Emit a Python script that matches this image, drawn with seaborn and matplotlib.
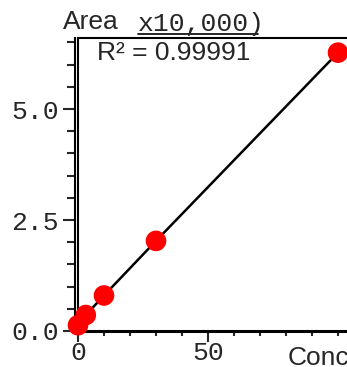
import matplotlib
matplotlib.use("Agg")
import matplotlib.pyplot as plt
from matplotlib.lines import Line2D
from matplotlib.ticker import MultipleLocator, FixedLocator, FixedFormatter
import seaborn as sns
import pandas as pd

# calibration points (conc vs area x10,000)
conc = [0, 3, 10, 30, 100]
area = [0.13, 0.36, 0.80, 2.03, 6.27]
y_ticks = [0.0, 2.5, 5.0]
y_labels = ["0.0", "2.5", "5.0"]
x_ticks = [0, 50]
x_labels = ["0", "50"]
r2_text = "R² = 0.99991"

sns.set_style("white")
plt.rcParams["font.family"] = ["Liberation Sans", "DejaVu Sans"]

df = pd.DataFrame({"conc": conc, "area": area})

fig = plt.figure(figsize=(3.47, 3.67), dpi=100)
ax = fig.add_axes([78 / 347, 36 / 367, 286 / 347, 293 / 367])

sns.lineplot(data=df, x="conc", y="area", color="black", linewidth=1.8, ax=ax)
sns.scatterplot(data=df, x="conc", y="area", color="red", s=220, edgecolor="none",
                zorder=5, clip_on=False, ax=ax)

ax.set_xlim(0, 110)
ax.set_ylim(0, 6.6)

ax.yaxis.set_major_locator(FixedLocator(y_ticks))
ax.yaxis.set_major_formatter(FixedFormatter(y_labels))
ax.yaxis.set_minor_locator(MultipleLocator(0.5))
ax.xaxis.set_major_locator(FixedLocator(x_ticks))
ax.xaxis.set_major_formatter(FixedFormatter(x_labels))
ax.xaxis.set_minor_locator(MultipleLocator(10))

ax.tick_params(axis="both", which="major", labelsize=19, labelfontfamily="Liberation Mono")
ax.tick_params(axis="y", which="major", direction="out", length=9, width=1.5, pad=3, left=True)
ax.tick_params(axis="y", which="minor", direction="out", length=5.5, width=1.5, left=True)
ax.tick_params(axis="x", which="major", direction="out", length=8, width=1.5, pad=-1, bottom=True)
ax.tick_params(axis="x", which="minor", direction="out", length=3.5, width=1.5, bottom=True)

ax.set_xlabel("")
ax.set_ylabel("")

for side in ["left", "bottom", "top", "right"]:
    ax.spines[side].set_color("black")
ax.spines["left"].set_linewidth(1.5)
ax.spines["left"].set_position(("outward", 2))
ax.spines["bottom"].set_linewidth(2.2)
ax.spines["top"].set_linewidth(1.5)
ax.spines["right"].set_visible(False)
ax.axvline(0, color="black", linewidth=1.5, clip_on=False, zorder=3)

fig.text(97 / 347, 1 - 41 / 367, r2_text, fontsize=19, va="top", ha="left")

# axis captions
fig.text(63 / 347, 1 - 10 / 367, "Area", fontsize=19, va="top", ha="left")
fig.text(138 / 347, 1 - 12 / 367, "x10,000)", family="Liberation Mono", fontsize=19,
         va="top", ha="left")
fig.add_artist(Line2D([138 / 347, 258 / 347], [1 - 34 / 367, 1 - 34 / 367],
                      color="black", linewidth=1.2))
fig.text(288 / 347, 1 - 346 / 367, "Conc.", fontsize=19, va="top", ha="left")

fig.savefig("out.png", dpi=100)
